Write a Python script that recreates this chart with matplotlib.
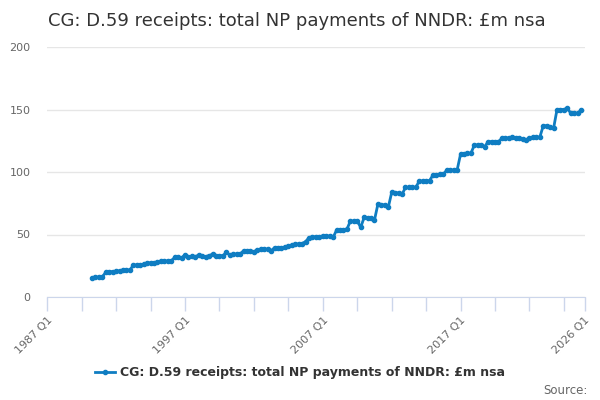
import matplotlib
matplotlib.use("Agg")
import matplotlib.pyplot as plt

# category axis runs 1987 Q1 .. 2026 Q1, data begins 1990 Q2
quarters = ["%d Q%d" % (y, q) for y in range(1987, 2027) for q in range(1, 5)][:157]
first_idx = 13  # 1990 Q2

values = [
    15.0, 15.8, 16.0, 16.3,
    19.8, 20.3, 20.3, 20.5,
    21.0, 21.6, 21.6, 21.6,
    25.6, 25.6, 25.8, 26.1,
    27.2, 27.4, 27.4, 27.8,
    28.5, 28.8, 28.8, 29.0,
    31.7, 31.7, 31.5, 33.6,
    32.3, 32.5, 32.3, 33.6,
    32.8, 32.3, 33.0, 34.4,
    33.1, 33.1, 33.1, 35.7,
    33.6, 34.2, 34.4, 34.4,
    37.0, 37.2, 37.0, 36.3,
    37.5, 38.4, 38.4, 38.2,
    37.0, 39.5, 39.5, 39.5,
    39.8, 40.8, 41.5, 42.4,
    42.4, 42.8, 44.3, 47.5,
    48.0, 48.3, 48.3, 48.8,
    49.1, 48.5, 47.7, 53.6,
    53.6, 53.6, 54.2, 60.8,
    60.8, 60.8, 55.7, 63.7,
    63.2, 63.0, 61.6, 74.4,
    73.8, 73.6, 71.7, 83.7,
    83.4, 83.2, 82.1, 87.7,
    87.7, 87.7, 87.7, 92.8,
    92.8, 92.8, 93.2, 97.6,
    97.6, 98.1, 98.1, 101.6,
    101.6, 101.6, 101.6, 114.4,
    114.8, 115.0, 115.0, 121.6,
    121.6, 121.6, 120.3, 124.3,
    124.3, 124.3, 124.3, 127.0,
    127.0, 127.4, 127.8, 127.0,
    127.0, 126.4, 125.6, 127.0,
    127.8, 127.8, 127.8, 137.0,
    137.0, 136.3, 135.0, 150.0,
    150.0, 150.0, 150.9, 147.0,
    147.0, 147.0, 149.6,
]

series_name = "CG: D.59 receipts: total NP payments of NNDR: £m nsa"
line_color = "#0f7dc2"

fig = plt.figure(figsize=(6, 4), dpi=100)
ax = fig.add_axes([0.0788, 0.2575, 0.8955, 0.625])

xs = list(range(first_idx, first_idx + len(values)))
ax.plot(xs, values, color=line_color, lw=2, marker="o", ms=3, label=series_name)

ax.set_xlim(0, len(quarters) - 1)
ax.set_ylim(0, 200)
ax.set_yticks([0, 50, 100, 150, 200])
ax.grid(axis="y", color="#e6e6e6", lw=1)
ax.set_axisbelow(True)

major = [0, 40, 80, 120, 156]
ax.set_xticks(major)
ax.set_xticklabels([quarters[i] for i in major], rotation=45, ha="right",
                   rotation_mode="anchor", color="#666666", fontsize=8)
ax.set_xticks(list(range(0, 157, 10)), minor=True)
ax.tick_params(axis="x", which="both", length=10, color="#ccd6eb", width=1, pad=3)
ax.tick_params(axis="y", length=0, labelcolor="#666666", labelsize=8, pad=12)

for s in ["top", "right", "left"]:
    ax.spines[s].set_visible(False)
ax.spines["bottom"].set_color("#ccd6eb")

fig.text(0.495, 0.948, series_name, ha="center", va="center", fontsize=13, color="#333333")

leg = fig.legend(loc="center", bbox_to_anchor=(0.5, 0.068), frameon=False,
                 prop={"weight": "bold", "size": 9}, handlelength=1.6, handletextpad=0.4)
for t in leg.get_texts():
    t.set_color("#333333")

fig.text(0.98, 0.025, "Source:", ha="right", va="center", fontsize=8.5, color="#666666")

fig.savefig("out.png", dpi=100)
